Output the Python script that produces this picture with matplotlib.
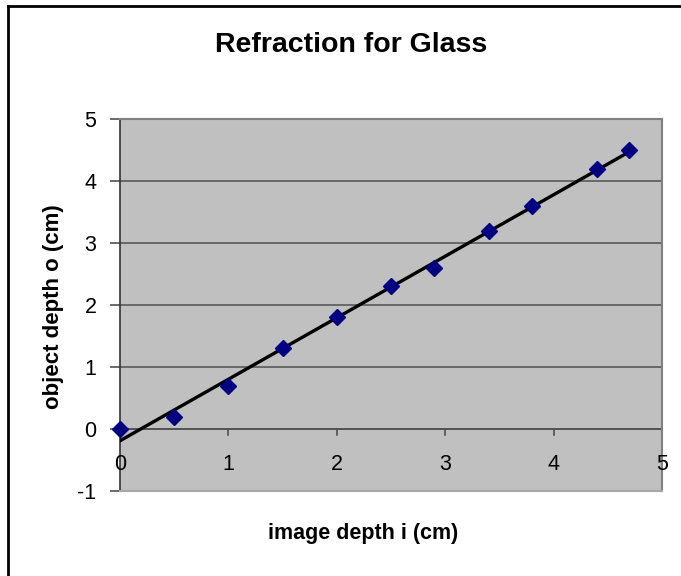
import matplotlib
matplotlib.use("Agg")
import matplotlib.pyplot as plt
import numpy as np
from matplotlib.lines import Line2D

plt.rcParams['font.family'] = ['Liberation Sans', 'DejaVu Sans']

image_depth = [0, 0.5, 1.0, 1.5, 2.0, 2.5, 2.9, 3.4, 3.8, 4.4, 4.7]
object_depth = [0, 0.2, 0.7, 1.3, 1.8, 2.3, 2.6, 3.2, 3.6, 4.2, 4.5]
x_ticks = [0, 1, 2, 3, 4, 5]
y_ticks = [-1, 0, 1, 2, 3, 4, 5]

fig = plt.figure(figsize=(6.81, 5.76), dpi=100)
ax = fig.add_axes([120/681, 1-491/576, 542/681, 372/576])
ax.set_facecolor('#C0C0C0')
ax.set_xlim(0, 5)
ax.set_ylim(-1, 5)

for yv in y_ticks[1:]:
    ax.axhline(yv, color='#505050', lw=1.1, zorder=1)

slope, intercept = np.polyfit(image_depth, object_depth, 1)
xs = np.array([min(image_depth), max(image_depth)])
ax.plot(xs, slope*xs + intercept, color='black', lw=2.4, zorder=3)
ax.plot(image_depth, object_depth, linestyle='none', marker='D', markersize=8,
        color='#000080', zorder=4, clip_on=False)

for s in ['top', 'right']:
    ax.spines[s].set_color('#808080')
    ax.spines[s].set_linewidth(1.5)
ax.spines['bottom'].set_color('#A8A8A8')
ax.spines['bottom'].set_linewidth(1.5)
ax.spines['left'].set_color('#333333')
ax.spines['left'].set_linewidth(1.2)

# x axis drawn at y=0
ax.set_xticks(x_ticks)
ax.set_xticklabels([])
ax.tick_params(axis='x', length=0)
ax.axhline(0, color='#505050', lw=1.2, zorder=2)
for xv in x_ticks:
    ax.plot([xv, xv], [0, -0.09], color='#505050', lw=1.2, zorder=2, clip_on=False)
    ax.text(xv, -0.58, str(xv), ha='center', va='center', fontsize=15.5, zorder=5)

ax.set_yticks(y_ticks)
ax.set_yticklabels([str(v) for v in y_ticks], fontsize=15.5)
ax.tick_params(axis='y', length=7, width=1.2, color='#505050', pad=10)

fig.text(351/681, 1-45/576, 'Refraction for Glass', ha='center', va='center',
         fontsize=20.5, fontweight='bold')
fig.text(363/681, 1-533/576, 'image depth i (cm)', ha='center', va='center',
         fontsize=15.5, fontweight='bold')
fig.text(54/681, 1-307/576, 'object depth o (cm)', ha='center', va='center',
         fontsize=16, fontweight='bold', rotation=90)

fig.add_artist(Line2D([8/681, 8/681], [0, 1-6/576], color='black', lw=2, transform=fig.transFigure))
fig.add_artist(Line2D([8/681, 1], [1-6/576, 1-6/576], color='black', lw=2, transform=fig.transFigure))

fig.savefig('out.png', dpi=100)
